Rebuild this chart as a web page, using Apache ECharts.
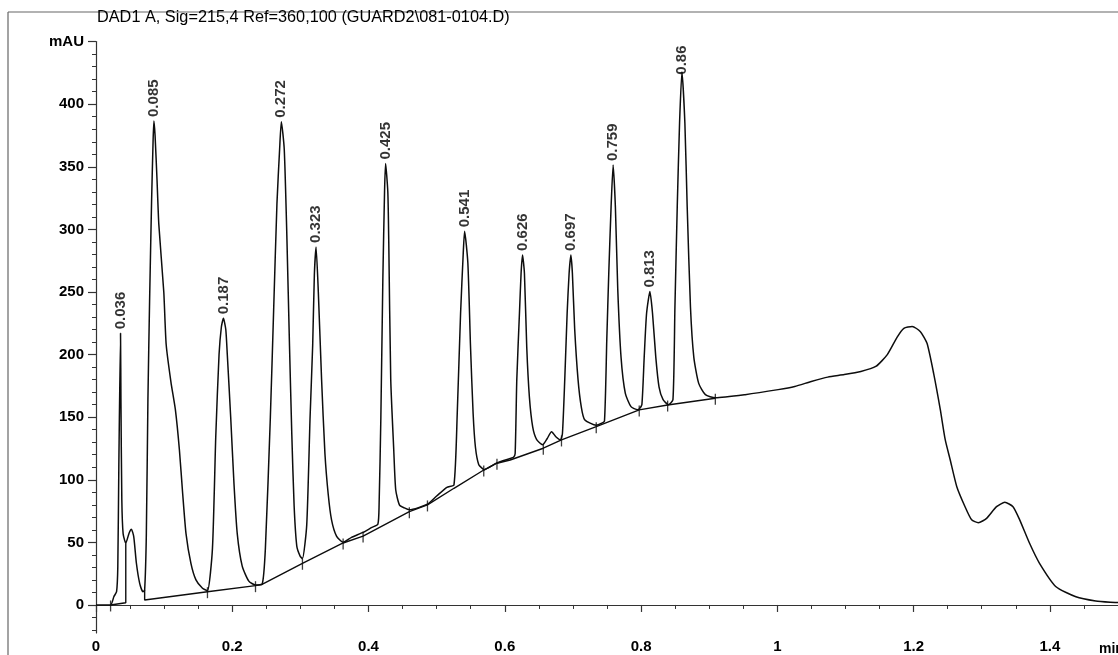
<!DOCTYPE html>
<html>
<head>
<meta charset="utf-8">
<title>DAD1 A chromatogram</title>
<script src="https://cdn.jsdelivr.net/npm/echarts@6/dist/echarts.min.js"></script>
<style>
  html, body { margin: 0; padding: 0; background: #fff; }
  #chart { width: 1118px; height: 655px; }
</style>
</head>
<body>
<div id="chart"></div>
<script>
// Detector signal, [retention time (min), absorbance (mAU)]
const trace = [
  [0, 0], [0.0214, 0], [0.0262, 6.6], [0.0302, 10.6], [0.032, 30.6], [0.0335, 110],
  [0.036, 217], [0.0366, 163.7], [0.0379, 84], [0.0398, 57], [0.0437, 49.3],
  [0.0485, 57.3], [0.052, 60.5], [0.0554, 54.6], [0.0593, 33.3], [0.0641, 17.3],
  [0.0689, 10.6], [0.0714, 12], [0.0739, 57], [0.0762, 164], [0.0787, 244],
  [0.0816, 323], [0.0838, 371], [0.085, 386.6],
  [0.0867, 375], [0.0896, 339], [0.0922, 304], [0.0995, 250], [0.103, 208],
  [0.110, 178], [0.1165, 156], [0.1224, 124], [0.1272, 89], [0.1321, 57],
  [0.1394, 33], [0.1467, 20], [0.1563, 13.3], [0.1636, 11.4],
  [0.1709, 45], [0.1758, 135], [0.1806, 200], [0.184, 222], [0.187, 229],
  [0.1905, 220], [0.1927, 200], [0.1977, 150], [0.2025, 97], [0.2073, 57],
  [0.2146, 31], [0.2243, 19], [0.2341, 16], [0.2437, 16.5],
  [0.2486, 45], [0.2559, 150], [0.2607, 235], [0.2656, 321], [0.2695, 364],
  [0.272, 386], [0.2763, 364], [0.2802, 293], [0.284, 207], [0.2874, 136],
  [0.2908, 79], [0.2947, 47], [0.2996, 39], [0.303, 37],
  [0.3093, 64], [0.3142, 150], [0.318, 207], [0.3205, 264], [0.323, 286],
  [0.3263, 250], [0.3311, 180], [0.336, 121], [0.3409, 88], [0.3457, 68],
  [0.353, 55], [0.3627, 50], [0.375, 54], [0.392, 58], [0.405, 62],
  [0.4137, 64.5], [0.4155, 80], [0.4181, 150], [0.421, 260], [0.4235, 330],
  [0.425, 352.6], [0.4283, 330], [0.4297, 290], [0.4326, 180], [0.437, 124],
  [0.4399, 92], [0.4453, 80], [0.4526, 77.5], [0.4599, 76],
  [0.4865, 80.5], [0.50, 87], [0.515, 94], [0.5254, 96], [0.5302, 153],
  [0.5351, 233], [0.539, 281], [0.541, 298.5], [0.5458, 273], [0.5497, 206],
  [0.5535, 153], [0.5569, 126], [0.5618, 112], [0.5681, 108.5], [0.5691, 108],
  [0.5885, 113.5], [0.6079, 117], [0.6128, 118], [0.6152, 121], [0.6176, 180],
  [0.6215, 233], [0.6239, 265], [0.626, 279.6], [0.6288, 265], [0.6322, 206],
  [0.6361, 166], [0.641, 142], [0.6468, 132], [0.6555, 128], [0.6623, 133],
  [0.6686, 138.4], [0.6749, 134.4], [0.6817, 131.8], [0.6846, 137], [0.688, 180],
  [0.6915, 233], [0.6944, 265], [0.697, 279.6], [0.6992, 265], [0.7026, 220],
  [0.7075, 180], [0.7123, 158], [0.7172, 148], [0.7342, 143.5], [0.7415, 145],
  [0.7463, 147], [0.7497, 212], [0.7526, 265], [0.756, 318], [0.759, 351.4],
  [0.7623, 318], [0.7658, 252], [0.7706, 198], [0.7769, 169], [0.7852, 158.4],
  [0.7949, 156], [0.7973, 156.5], [0.8012, 160], [0.8046, 198], [0.8081, 233],
  [0.813, 250.3], [0.8168, 233], [0.8216, 198], [0.8264, 174], [0.8323, 164],
  [0.8401, 160], [0.8468, 164], [0.8497, 238], [0.8531, 318], [0.8565, 385],
  [0.86, 426], [0.8643, 385], [0.8677, 318], [0.8725, 238], [0.8774, 198],
  [0.8846, 177], [0.8944, 168], [0.909, 165.5],
  [0.9527, 168], [1.0012, 172], [1.0255, 174.5], [1.0498, 178.5], [1.074, 182],
  [1.0983, 184], [1.1226, 186.5], [1.1445, 190.5], [1.1614, 200], [1.1759, 214],
  [1.1857, 221], [1.1979, 222.5], [1.21, 218.3], [1.2197, 209], [1.2294, 185],
  [1.2392, 156], [1.2464, 132], [1.2537, 116], [1.2634, 94.5], [1.2755, 78.5],
  [1.2852, 68], [1.295, 65.7], [1.3071, 69.2], [1.3217, 78.5], [1.3339, 82],
  [1.3459, 78.5], [1.3557, 68], [1.3702, 49.3], [1.3848, 33.3], [1.409, 14.6],
  [1.4382, 6.6], [1.4673, 3.2], [1.4887, 2.2], [1.5, 2]
];

// Integration baselines (with drop lines at the split points)
const baselineFirst = [[0.0214, 0], [0.0437, 1.8], [0.0437, 49.3]];
const baselineRest = [
  [0.0714, 12], [0.0714, 4], [0.1636, 10.6], [0.2341, 15.4], [0.2437, 16.5],
  [0.303, 33.3], [0.3627, 49.5], [0.392, 55], [0.4599, 74.5], [0.4865, 79.9],
  [0.5254, 93.2], [0.5691, 107.8], [0.5885, 113.2], [0.6079, 115.8],
  [0.6565, 125.2], [0.6832, 131.8], [0.7342, 142.4], [0.7973, 155.8],
  [0.839, 159.7], [0.909, 165.1]
];

// Peak start / end markers on the baseline
const boundaryMarks = [
  [0.0214, 0], [0.1636, 10.6], [0.2341, 15.4], [0.303, 33.3], [0.3627, 49.5],
  [0.392, 55], [0.4599, 74.5], [0.4865, 79.9], [0.5691, 107.8], [0.5885, 113.2],
  [0.6565, 125.2], [0.6832, 131.8], [0.7342, 142.4], [0.7973, 155.8],
  [0.839, 159.7], [0.909, 165.1]
];

// Peak apexes: retention times and heights
const peakTimes = [0.036, 0.085, 0.187, 0.272, 0.323, 0.425, 0.541, 0.626, 0.697, 0.759, 0.813, 0.86];
const peakHeights = [217, 386.6, 229, 386, 286, 352.6, 298.5, 279.6, 279.6, 351.4, 250.3, 426];

// Axis ticks
const xMajor = [0, 0.2, 0.4, 0.6, 0.8, 1, 1.2, 1.4];
const xMinor = [0.05, 0.1, 0.15, 0.25, 0.3, 0.35, 0.45, 0.5, 0.55, 0.65, 0.7, 0.75,
  0.85, 0.9, 0.95, 1.05, 1.1, 1.15, 1.25, 1.3, 1.35, 1.45];
const yMajor = [0, 50, 100, 150, 200, 250, 300, 350, 400, 450];
const yMinor = [-20, -10, 10, 20, 30, 40, 60, 70, 80, 90, 110, 120, 130, 140, 160, 170,
  180, 190, 210, 220, 230, 240, 260, 270, 280, 290, 310, 320, 330, 340, 360, 370,
  380, 390, 410, 420, 430, 440];
const yUnitLabel = 'mAU';
const xUnitLabel = 'min';
const chartTitle = 'DAD1 A, Sig=215,4 Ref=360,100 (GUARD2\\081-0104.D)';

const FONT = '"Liberation Sans", Arial, Helvetica, sans-serif';
const INK = '#0d0d0d';
const AXIS = '#333';

const peakPoints = peakTimes.map((t, i) => {
  const item = { value: [t, peakHeights[i]] };
  if (t === 0.86) item.label = { distance: -3 };
  return item;
});

const chart = echarts.init(document.getElementById('chart'), null, { renderer: 'canvas' });

chart.setOption({
  backgroundColor: '#fff',
  animation: false,
  grid: { left: 96, top: 41.6, bottom: 22, right: -7.75, containLabel: false },
  xAxis: [
    {
      type: 'value', min: 0, max: 1.5,
      splitLine: { show: false },
      axisLine: { show: true, lineStyle: { color: AXIS, width: 1.2 } },
      axisTick: { show: true, customValues: xMajor, length: 7, lineStyle: { color: AXIS, width: 1.2 } },
      axisLabel: {
        show: true, customValues: xMajor, margin: 6,
        color: '#000', fontFamily: FONT, fontSize: 15, fontWeight: 'bold'
      }
    },
    {
      type: 'value', min: 0, max: 1.5, position: 'bottom', offset: 0,
      splitLine: { show: false },
      axisLine: { show: false },
      axisTick: { show: true, customValues: xMinor, length: 4, lineStyle: { color: AXIS, width: 1 } },
      axisLabel: { show: false }
    }
  ],
  yAxis: [
    {
      type: 'value', min: -22.4, max: 450,
      splitLine: { show: false },
      axisLine: { show: true, lineStyle: { color: AXIS, width: 1.2 } },
      axisTick: { show: true, customValues: yMajor, length: 8, lineStyle: { color: AXIS, width: 1.2 } },
      axisLabel: {
        show: true, customValues: yMajor, margin: 12,
        color: '#000', fontFamily: FONT, fontSize: 15, fontWeight: 'bold',
        formatter: v => (v === 450 ? yUnitLabel : String(v))
      }
    },
    {
      type: 'value', min: -22.4, max: 450, position: 'left', offset: 0,
      splitLine: { show: false },
      axisLine: { show: false },
      axisTick: { show: true, customValues: yMinor, length: 4, lineStyle: { color: AXIS, width: 1 } },
      axisLabel: { show: false }
    }
  ],
  series: [
    {
      name: 'signal', type: 'line', data: trace,
      showSymbol: false, smooth: 0.2,
      lineStyle: { color: INK, width: 1.5 },
      silent: true, z: 3
    },
    {
      name: 'baseline-1', type: 'line', data: baselineFirst,
      showSymbol: false, lineStyle: { color: INK, width: 1.4 }, silent: true, z: 3
    },
    {
      name: 'baseline-2', type: 'line', data: baselineRest,
      showSymbol: false, lineStyle: { color: INK, width: 1.4 }, silent: true, z: 3
    },
    {
      name: 'boundaries', type: 'scatter', data: boundaryMarks,
      symbol: 'rect', symbolSize: [1.3, 11], symbolOffset: [0, 1],
      itemStyle: { color: INK }, silent: true, z: 4
    },
    {
      name: 'peaks', type: 'scatter', data: peakPoints,
      symbolSize: 0, silent: true, z: 5,
      label: {
        show: true, position: 'top', distance: 4, rotate: 90,
        align: 'left', verticalAlign: 'middle',
        color: '#000', fontFamily: FONT, fontSize: 15, fontWeight: 'bold',
        formatter: p => String(p.value[0])
      }
    }
  ],
  graphic: [
    { type: 'line', shape: { x1: 8, y1: 12, x2: 1118, y2: 12 }, style: { stroke: '#666', lineWidth: 1.2 } },
    { type: 'line', shape: { x1: 8, y1: 12, x2: 8, y2: 655 }, style: { stroke: '#666', lineWidth: 1.2 } },
    {
      type: 'text', left: 97, top: 10,
      style: { text: chartTitle, fill: '#000', font: '16.3px ' + FONT }
    },
    {
      type: 'text', left: 1099, top: 642,
      style: { text: xUnitLabel, fill: '#000', font: 'bold 14px ' + FONT }
    }
  ]
});
</script>
</body>
</html>
